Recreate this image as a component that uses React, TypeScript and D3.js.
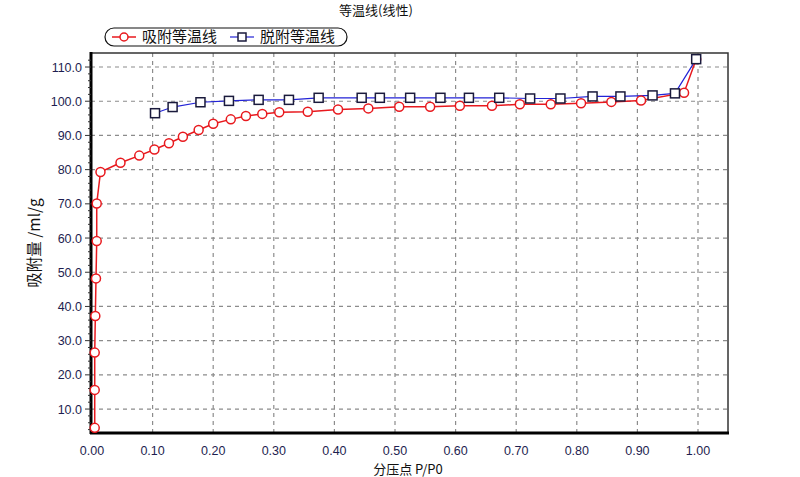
import React, { useEffect, useRef } from "react";
import * as d3 from "d3";

// 吸附等温线 (P/P0, ml/g)
const adsX = [0.0045, 0.0045, 0.0045, 0.0055, 0.0066, 0.0078, 0.0078, 0.014, 0.047, 0.078, 0.103, 0.127, 0.15, 0.176, 0.2, 0.229, 0.254, 0.281, 0.309, 0.356, 0.406, 0.456, 0.507, 0.558, 0.607, 0.66, 0.706, 0.757, 0.807, 0.857, 0.906, 0.977, 0.997];
const adsY = [4.5, 15.6, 26.5, 37.2, 48.2, 59.1, 70.1, 79.3, 82.0, 84.1, 85.9, 87.7, 89.6, 91.6, 93.4, 94.7, 95.7, 96.3, 96.8, 96.9, 97.6, 97.9, 98.4, 98.4, 98.7, 98.7, 99.1, 99.1, 99.4, 99.8, 100.2, 102.5, 112.3];

// 脱附等温线
const desX = [0.104, 0.133, 0.179, 0.226, 0.275, 0.325, 0.374, 0.445, 0.475, 0.525, 0.575, 0.622, 0.672, 0.723, 0.773, 0.826, 0.872, 0.925, 0.962, 0.997];
const desY = [96.5, 98.3, 99.7, 100.1, 100.4, 100.4, 101.0, 101.0, 101.0, 101.0, 101.0, 101.0, 101.0, 100.8, 100.8, 101.4, 101.4, 101.7, 102.3, 112.3];

const xTicks = [0, 0.1, 0.2, 0.3, 0.4, 0.5, 0.6, 0.7, 0.8, 0.9, 1.0];
const yTicks = [10, 20, 30, 40, 50, 60, 70, 80, 90, 100, 110];

const chartTitle = "等温线(线性)";
const xTitle = "分压点 P/P0";
const yTitle = "吸附量 /ml/g";
const seriesNames = ["吸附等温线", "脱附等温线"];

const FONT = "'Liberation Sans', Arial, 'Noto Sans CJK SC', sans-serif";
const CJK = "'Noto Sans CJK SC', 'Liberation Sans', sans-serif";

export default function App() {
    const svgRef = useRef<SVGSVGElement>(null);
    const width = 800;
    const height = 477;

    useEffect(() => {
        document.body.style.margin = "0";
        const svg = d3.select(svgRef.current);
        svg.selectAll("*").remove();

        const left = 91, right = 728, top = 53, bottom = 433;

        const x = d3.scaleLinear().domain([0, 1.0]).range([92, 698]);
        const y = d3.scaleLinear().domain([3, 114.1]).range([bottom, top]);

        svg.append("rect")
            .attr("width", width)
            .attr("height", height)
            .attr("fill", "#fff");

        // grid
        const grid = svg.append("g")
            .attr("stroke", "#8c8c8c")
            .attr("stroke-width", 1.2)
            .attr("stroke-dasharray", "4,4");
        grid.selectAll("line.v")
            .data(xTicks.filter((d) => d > 0))
            .join("line")
            .attr("class", "v")
            .attr("x1", (d) => x(d))
            .attr("x2", (d) => x(d))
            .attr("y1", top)
            .attr("y2", bottom);
        grid.selectAll("line.h")
            .data(yTicks)
            .join("line")
            .attr("class", "h")
            .attr("x1", left)
            .attr("x2", right)
            .attr("y1", (d) => y(d))
            .attr("y2", (d) => y(d));

        // frame
        svg.append("rect")
            .attr("x", left)
            .attr("y", top)
            .attr("width", right - left)
            .attr("height", bottom - top)
            .attr("fill", "none")
            .attr("stroke", "#333")
            .attr("stroke-width", 1.5);
        svg.append("line")
            .attr("x1", left).attr("x2", left)
            .attr("y1", top - 1).attr("y2", bottom + 1)
            .attr("stroke", "#000").attr("stroke-width", 3);
        svg.append("line")
            .attr("x1", left - 1).attr("x2", right + 1)
            .attr("y1", bottom).attr("y2", bottom)
            .attr("stroke", "#000").attr("stroke-width", 3);

        // y ticks (major + minor)
        const minor = d3.range(4, 114, 2).filter((d) => d % 10 !== 0);
        svg.append("g")
            .selectAll("line")
            .data(minor)
            .join("line")
            .attr("x1", left - 3).attr("x2", left)
            .attr("y1", (d) => y(d)).attr("y2", (d) => y(d))
            .attr("stroke", "#333");
        svg.append("g")
            .selectAll("line")
            .data(yTicks)
            .join("line")
            .attr("x1", left - 6).attr("x2", left)
            .attr("y1", (d) => y(d)).attr("y2", (d) => y(d))
            .attr("stroke", "#333");

        const labelColor = "#1e1e50";
        svg.append("g")
            .selectAll("text")
            .data(yTicks)
            .join("text")
            .attr("x", 82)
            .attr("y", (d) => y(d))
            .attr("dy", "0.36em")
            .attr("text-anchor", "end")
            .attr("font-family", FONT)
            .attr("font-size", 12.5)
            .attr("fill", labelColor)
            .text((d) => d3.format(".1f")(d));
        svg.append("g")
            .selectAll("text")
            .data(xTicks)
            .join("text")
            .attr("x", (d) => x(d))
            .attr("y", 455)
            .attr("text-anchor", "middle")
            .attr("font-family", FONT)
            .attr("font-size", 12.5)
            .attr("fill", labelColor)
            .text((d) => d3.format(".2f")(d));

        // titles
        svg.append("text")
            .attr("x", 376).attr("y", 15)
            .attr("text-anchor", "middle")
            .attr("font-family", CJK).attr("font-size", 13)
            .attr("fill", "#111")
            .text(chartTitle);
        svg.append("text")
            .attr("x", 408).attr("y", 474)
            .attr("text-anchor", "middle")
            .attr("font-family", CJK).attr("font-size", 13)
            .attr("fill", "#111")
            .text(xTitle);
        svg.append("text")
            .attr("transform", "translate(40,243) rotate(-90)")
            .attr("text-anchor", "middle")
            .attr("font-family", CJK).attr("font-size", 15.5)
            .attr("fill", "#111")
            .text(yTitle);

        // series
        const red = "#e8191e";
        const blue = "#2323d6";
        const navy = "#1a1a3c";
        const line = d3.line<[number, number]>()
            .x((d) => x(d[0]))
            .y((d) => y(d[1]));
        const ads: [number, number][] = adsX.map((v, i) => [v, adsY[i]]);
        const des: [number, number][] = desX.map((v, i) => [v, desY[i]]);

        svg.append("path")
            .attr("d", line(des))
            .attr("fill", "none")
            .attr("stroke", blue)
            .attr("stroke-width", 1.2);
        svg.append("path")
            .attr("d", line(ads))
            .attr("fill", "none")
            .attr("stroke", red)
            .attr("stroke-width", 1.5);

        svg.append("g")
            .selectAll("circle")
            .data(ads)
            .join("circle")
            .attr("cx", (d) => x(d[0]))
            .attr("cy", (d) => y(d[1]))
            .attr("r", 4.5)
            .attr("fill", "#fff")
            .attr("stroke", red)
            .attr("stroke-width", 1.5);
        svg.append("g")
            .selectAll("rect")
            .data(des)
            .join("rect")
            .attr("x", (d) => x(d[0]) - 4.5)
            .attr("y", (d) => y(d[1]) - 4.5)
            .attr("width", 9)
            .attr("height", 9)
            .attr("fill", "#fff")
            .attr("stroke", navy)
            .attr("stroke-width", 1.5);

        // legend
        const lg = svg.append("g");
        lg.append("rect")
            .attr("x", 105).attr("y", 28)
            .attr("width", 242).attr("height", 18)
            .attr("rx", 9)
            .attr("fill", "#fff")
            .attr("stroke", "#111")
            .attr("stroke-width", 1.2);
        lg.append("line")
            .attr("x1", 112).attr("x2", 136).attr("y1", 37).attr("y2", 37)
            .attr("stroke", red).attr("stroke-width", 1.5);
        lg.append("circle")
            .attr("cx", 124).attr("cy", 37).attr("r", 4)
            .attr("fill", "#fff").attr("stroke", red).attr("stroke-width", 1.5);
        lg.append("line")
            .attr("x1", 230).attr("x2", 254).attr("y1", 37).attr("y2", 37)
            .attr("stroke", blue).attr("stroke-width", 1.2);
        lg.append("rect")
            .attr("x", 238).attr("y", 33).attr("width", 8).attr("height", 8)
            .attr("fill", "#fff").attr("stroke", navy).attr("stroke-width", 1.5);
        lg.selectAll("text")
            .data(seriesNames)
            .join("text")
            .attr("x", (_, i) => (i === 0 ? 142 : 260))
            .attr("y", 37)
            .attr("dy", "0.36em")
            .attr("font-family", CJK)
            .attr("font-size", 15)
            .attr("fill", "#111")
            .text((d) => d);
    }, []);

    return <svg ref={svgRef} width={width} height={height} style={{ display: "block" }}></svg>;
}
